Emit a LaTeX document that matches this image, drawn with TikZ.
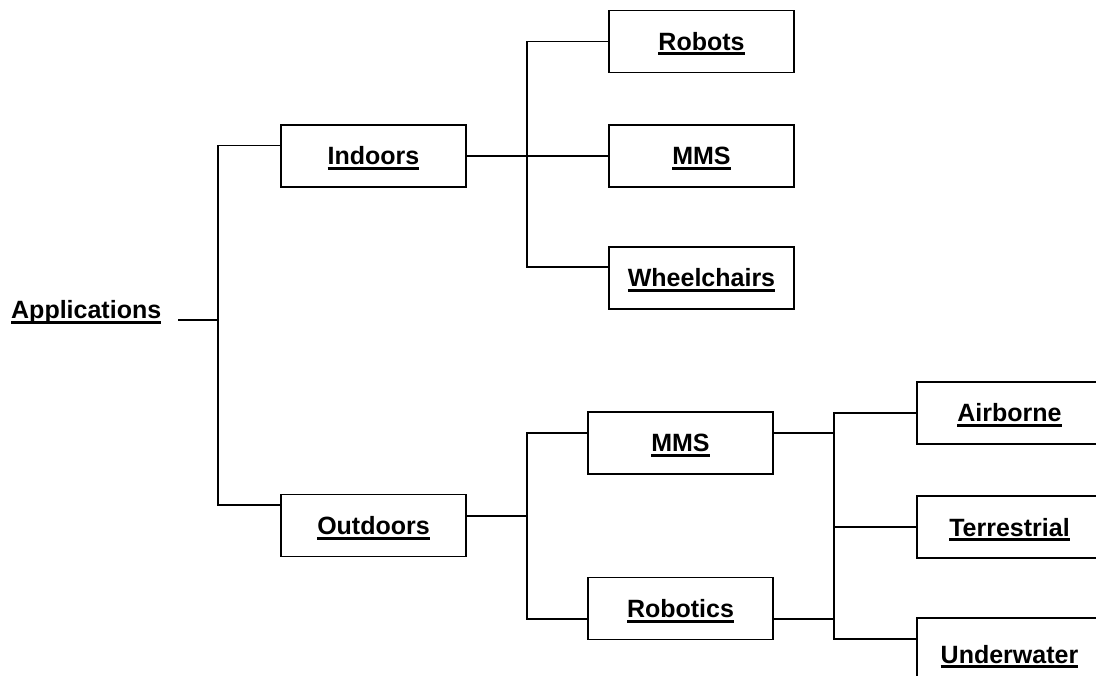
\documentclass[tikz,border=0pt]{standalone}
\usepackage{fontspec}
\setmainfont{Liberation Sans}
% bold label with a word-processor style underline that crosses descenders
\newcommand\ulabel[1]{\setbox0\hbox{\bfseries #1}\rlap{\smash{\rule[-5pt]{\wd0}{3pt}}}\box0}
\tikzset{
  catbox/.style={draw, line width=1.5pt, minimum width=185pt, minimum height=62pt,
    inner sep=0pt, text height=18pt, text depth=0pt,
    font=\fontsize{25}{30}\selectfont},
  link/.style={line width=1.5pt}
}
\begin{document}
\begin{tikzpicture}[x=1pt, y=-1pt]
  \useasboundingbox (0,0) rectangle (1096,676);
  \clip (0,0) rectangle (1096,676);
  \fill[white] (0,0) rectangle (1096,676);

  % root label
  \node[anchor=base west, inner sep=0pt, font=\fontsize{25}{30}\selectfont] (app) at (11,319) {\ulabel{Applications}};

  % first level
  \node[catbox] (ind) at (373.5,156) {\ulabel{Indoors}};
  \node[catbox] (out) at (373.5,525.5) {\ulabel{Outdoors}};

  % indoor branches
  \node[catbox] (rob)  at (701.5,41.5) {\ulabel{Robots}};
  \node[catbox] (mms1) at (701.5,156)  {\ulabel{MMS}};
  \node[catbox] (whc)  at (701.5,278)  {\ulabel{Wheelchairs}};

  % outdoor branches
  \node[catbox] (mms2) at (680.5,443)   {\ulabel{MMS}};
  \node[catbox] (rbt)  at (680.5,608.5) {\ulabel{Robotics}};

  % platforms
  \node[catbox] (air) at (1009.5,413) {\ulabel{Airborne}};
  \node[catbox] (ter) at (1009.5,527) {\ulabel{Terrestrial}};
  \node[catbox, minimum height=72pt] (und) at (1009.5,654) {\ulabel{Underwater}};

  % bus junctions
  \coordinate (appout) at (178,320);
  \coordinate (b1) at (218,320);
  \coordinate (b2) at (527,156);
  \coordinate (b3) at (527,516);
  \coordinate (b4) at (834,527);

  % root to first level
  \draw[link] (appout) -- (b1);
  \draw[link] ([yshift=10.5pt]ind.west) -| (b1) |- ([yshift=20.5pt]out.west);

  % indoors
  \draw[link] (ind.east) -- (mms1.west);
  \draw[link] (rob.west) -| (b2) |- ([yshift=11pt]whc.west);

  % outdoors
  \draw[link] ([yshift=9.5pt]out.east) -- (b3);
  \draw[link] ([yshift=10pt]mms2.west) -| (b3) |- ([yshift=-10.5pt]rbt.west);

  % platforms
  \draw[link] ([yshift=10pt]mms2.east) -- ([yshift=10pt]mms2.east -| b4);
  \draw[link] ([yshift=-10.5pt]rbt.east) -- ([yshift=-10.5pt]rbt.east -| b4);
  \draw[link] (air.west) -| (b4) |- ([yshift=15pt]und.west);
  \draw[link] (ter.west) -- (ter.west -| b4);
\end{tikzpicture}
\end{document}
